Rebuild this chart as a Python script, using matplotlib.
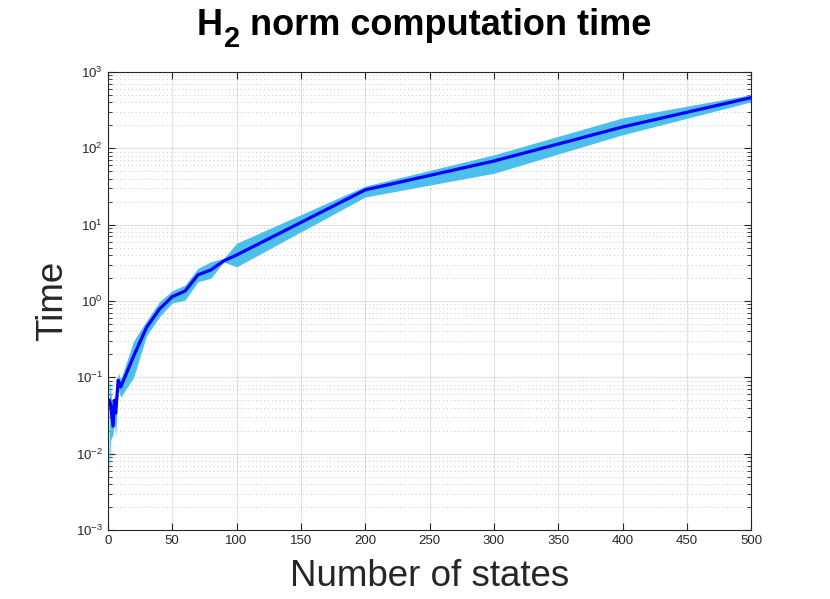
import numpy as np
import matplotlib
matplotlib.use('Agg')
import matplotlib.pyplot as plt
from matplotlib.ticker import FixedLocator, NullFormatter, MultipleLocator

plt.rcParams['font.family'] = ['Liberation Sans', 'DejaVu Sans']
plt.rcParams['mathtext.fontset'] = 'custom'
plt.rcParams['mathtext.rm'] = 'Liberation Sans'

# number of states
states = [1, 2, 4, 5, 6, 8, 10, 20, 30, 40, 50, 60, 70, 80, 90, 100, 200, 300, 400, 500]
# mean computation time
t_mean = [0.05, 0.045, 0.023, 0.05, 0.034, 0.092, 0.075, 0.19, 0.45, 0.78, 1.14, 1.35,
          2.2, 2.55, 3.35, 4.0, 28.5, 68, 190, 460]
# band around it
t_low = [0.004, 0.015, 0.018, 0.025, 0.017, 0.07, 0.055, 0.10, 0.35, 0.62, 0.94, 1.03,
         1.79, 1.98, 3.25, 2.8, 23, 47, 150, 405]
t_high = [0.1, 0.07, 0.035, 0.06, 0.045, 0.115, 0.095, 0.30, 0.55, 0.98, 1.36, 1.62,
          2.68, 3.27, 3.6, 5.7, 32, 82, 250, 505]
y_ticks = [1e-3, 1e-2, 1e-1, 1e0, 1e1, 1e2, 1e3]

dark = (0.15, 0.15, 0.15)
W, H = 830, 599

fig = plt.figure(figsize=(8.3, 5.99), dpi=100)
ax = fig.add_axes([0.13, 0.115, 0.775, 0.765])

ax.fill_between(states, t_low, t_high, color=(0.3, 0.75, 0.93), linewidth=0)
ax.plot(states, t_mean, color=(0, 0, 1), linewidth=2.3)

ax.set_yscale('log')
ax.set_xlim(0, 500)
ax.set_ylim(1e-3, 1e3)
ax.xaxis.set_major_locator(MultipleLocator(50))
ax.yaxis.set_major_locator(FixedLocator(y_ticks))
minors = [m * d for d in y_ticks[:-1] for m in range(2, 10)]
ax.yaxis.set_minor_locator(FixedLocator(minors))
ax.yaxis.set_minor_formatter(NullFormatter())

ax.grid(True, which='major', color=dark, alpha=0.13, linewidth=0.8)
ax.grid(True, which='minor', axis='y', color=dark, alpha=0.25,
        linestyle=(0, (1, 3)), linewidth=0.7)
ax.set_axisbelow(True)

for s in ax.spines.values():
    s.set_color(dark)
    s.set_linewidth(0.8)
ax.tick_params(which='both', direction='in', top=True, right=True,
               colors=dark, labelsize=9.5)
ax.tick_params(which='major', length=5)
ax.tick_params(which='minor', length=3)

ax.set_xlabel('Number of states', fontsize=26.5, color=dark, labelpad=9)
ax.set_ylabel('Time', fontsize=26.5, color=dark, labelpad=4)

# title in pieces so the subscript is big and low, like matlab's tex
r = fig.canvas.get_renderer()
base = 35
t1 = fig.text(197 / W, 1 - base / H, 'H', fontsize=26, fontweight='bold',
              ha='left', va='baseline')
x2 = t1.get_window_extent(r).x1 + 1
t2 = fig.text(x2 / W, 1 - (base + 12) / H, '2', fontsize=21, fontweight='bold',
              ha='left', va='baseline')
x3 = t2.get_window_extent(r).x1
fig.text(x3 / W, 1 - base / H, ' norm computation time', fontsize=26,
         fontweight='bold', ha='left', va='baseline')

fig.savefig('out.png', dpi=100)
